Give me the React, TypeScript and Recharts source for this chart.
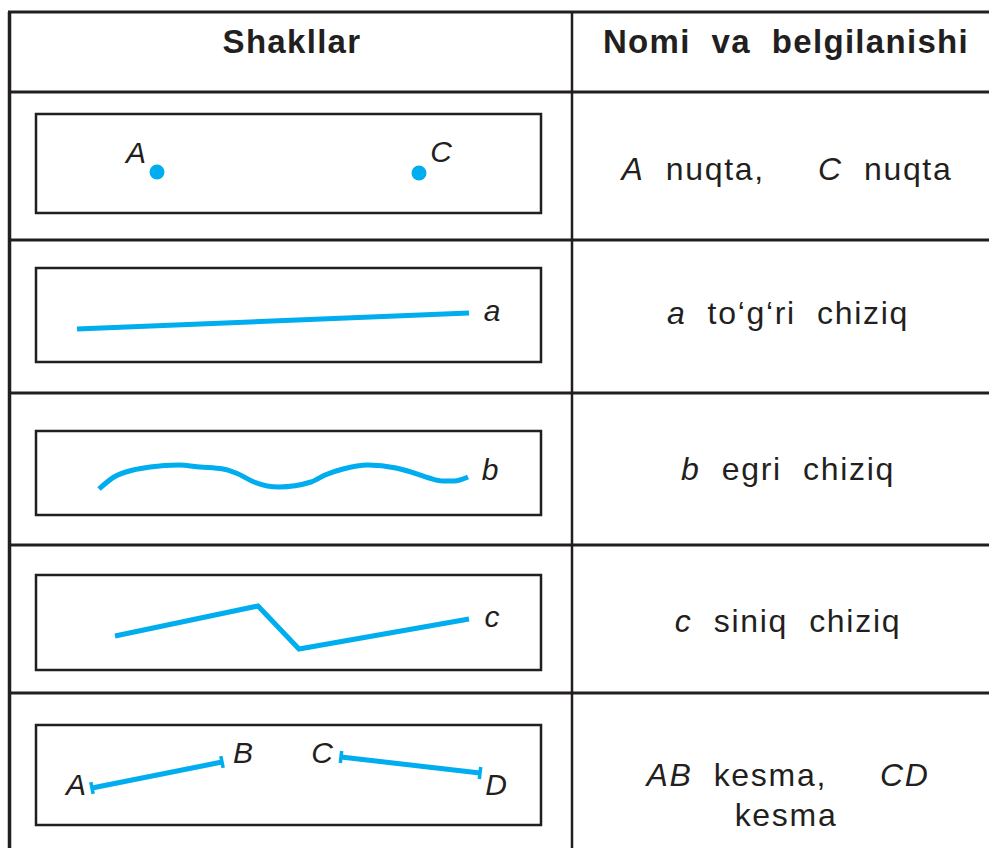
import {
  ComposedChart,
  Line,
  ReferenceArea,
  ReferenceLine,
  Scatter,
  XAxis,
  YAxis,
} from "recharts";

const W = 989;
const H = 848;
const INK = "#231f20";
const BLUE = "#00adee";
const FONT = "'Liberation Sans', Arial, Helvetica, sans-serif";

// table grid (page pixels = data units)
const rowLines = [12, 92, 240, 393, 545, 693];
const colLines = [9.5, 572];
const boxRows = [
  [114, 213],
  [268, 362],
  [431, 515],
  [575, 670],
  [725, 825],
];

const points = [
  { x: 157, y: 172 },
  { x: 419, y: 173 },
];
const straightA = [
  { x: 77, y: 329 },
  { x: 469, y: 313 },
];
const curveB = [
  { x: 99, y: 489 },
  { x: 114, y: 477 },
  { x: 133, y: 470 },
  { x: 150, y: 467 },
  { x: 179, y: 465 },
  { x: 200, y: 467 },
  { x: 223, y: 469 },
  { x: 236, y: 473 },
  { x: 254, y: 482 },
  { x: 279, y: 487 },
  { x: 311, y: 482 },
  { x: 325, y: 475 },
  { x: 343, y: 469 },
  { x: 368, y: 465 },
  { x: 396, y: 468 },
  { x: 414, y: 473 },
  { x: 429, y: 478 },
  { x: 443, y: 481 },
  { x: 454, y: 481 },
  { x: 468, y: 477 },
];
const brokenC = [
  { x: 115, y: 636 },
  { x: 258, y: 606 },
  { x: 299, y: 649 },
  { x: 469, y: 619 },
];
const segAB = [
  { x: 92, y: 788 },
  { x: 222, y: 762 },
];
const segCD = [
  { x: 341, y: 757 },
  { x: 480, y: 773 },
];

const shapeLetters = [
  { x: 136, y: 163, t: "A" },
  { x: 441, y: 162, t: "C" },
  { x: 492, y: 321, t: "a" },
  { x: 490, y: 480, t: "b" },
  { x: 492, y: 627, t: "c" },
  { x: 76, y: 795, t: "A" },
  { x: 243, y: 763, t: "B" },
  { x: 322, y: 763, t: "C" },
  { x: 496, y: 795, t: "D" },
];

type Part = { t: string; i?: boolean };
const headers = [
  { x: 292, y: 53, parts: [{ t: "Shakllar" }] as Part[] },
  { x: 786, y: 53, parts: [{ t: "Nomi  va  belgilanishi" }] as Part[] },
];
const names = [
  { x: 787, y: 180, parts: [{ t: "A", i: true }, { t: "  nuqta,     " }, { t: "C", i: true }, { t: "  nuqta" }] },
  { x: 788, y: 324, parts: [{ t: "a", i: true }, { t: "  to‘g‘ri  chiziq" }] },
  { x: 788, y: 480, parts: [{ t: "b", i: true }, { t: "  egri  chiziq" }] },
  { x: 788, y: 632, parts: [{ t: "c", i: true }, { t: "  siniq  chiziq" }] },
  { x: 788, y: 786, parts: [{ t: "AB", i: true }, { t: "  kesma,     " }, { t: "CD", i: true }] },
  { x: 786, y: 826, parts: [{ t: "kesma" }] },
];

function angleOf(seg: { x: number; y: number }[]) {
  return (Math.atan2(seg[1].y - seg[0].y, seg[1].x - seg[0].x) * 180) / Math.PI;
}

function capDot(angle: number) {
  return (p: any) => (
    <line
      key={`cap-${p.index}`}
      x1={p.cx}
      y1={p.cy - 6}
      x2={p.cx}
      y2={p.cy + 6}
      stroke={BLUE}
      strokeWidth={3.5}
      transform={`rotate(${angle} ${p.cx} ${p.cy})`}
    />
  );
}

function textShape(size: number, bold: boolean, italicAll: boolean, spacing: number) {
  return (p: any) => {
    const d = p.payload;
    const parts: Part[] = d.parts ?? [{ t: d.t, i: italicAll }];
    return (
      <text
        x={p.cx}
        y={p.cy}
        textAnchor="middle"
        fontFamily={FONT}
        fontSize={size}
        fontWeight={bold ? 700 : 400}
        letterSpacing={spacing}
        fill={INK}
        style={{ whiteSpace: "pre" }}
      >
        {parts.map((q, k) => (
          <tspan key={k} fontStyle={q.i ? "italic" : "normal"}>
            {q.t}
          </tspan>
        ))}
      </text>
    );
  };
}

export default function App() {
  return (
    <div style={{ position: "absolute", left: 0, top: 0, background: "#fff" }}>
      <ComposedChart width={W} height={H} margin={{ top: 0, right: 0, bottom: 0, left: 0 }}>
        <XAxis type="number" dataKey="x" domain={[0, W]} hide allowDataOverflow />
        <YAxis type="number" dataKey="y" domain={[0, H]} reversed hide allowDataOverflow />

        {rowLines.map((y) => (
          <ReferenceLine
            key={`h${y}`}
            segment={[{ x: 8, y }, { x: W, y }]}
            stroke={INK}
            strokeWidth={3}
            ifOverflow="visible"
          />
        ))}
        {colLines.map((x) => (
          <ReferenceLine
            key={`v${x}`}
            segment={[{ x, y: 12 }, { x, y: H }]}
            stroke={INK}
            strokeWidth={x < 20 ? 3.5 : 2.5}
            ifOverflow="visible"
          />
        ))}
        {boxRows.map(([y1, y2]) => (
          <ReferenceArea
            key={`b${y1}`}
            x1={36}
            x2={541}
            y1={y1}
            y2={y2}
            fill="none"
            stroke={INK}
            strokeWidth={2.5}
            ifOverflow="visible"
          />
        ))}

        <Line data={straightA} dataKey="y" type="linear" stroke={BLUE} strokeWidth={5} dot={false} isAnimationActive={false} />
        <Line data={curveB} dataKey="y" type="monotone" stroke={BLUE} strokeWidth={5} strokeLinejoin="round" dot={false} isAnimationActive={false} />
        <Line data={brokenC} dataKey="y" type="linear" stroke={BLUE} strokeWidth={5} dot={false} isAnimationActive={false} />
        <Line data={segAB} dataKey="y" type="linear" stroke={BLUE} strokeWidth={5} dot={capDot(angleOf(segAB))} isAnimationActive={false} />
        <Line data={segCD} dataKey="y" type="linear" stroke={BLUE} strokeWidth={5} dot={capDot(angleOf(segCD))} isAnimationActive={false} />

        <Scatter
          data={points}
          isAnimationActive={false}
          shape={(p: any) => <circle cx={p.cx} cy={p.cy} r={7.5} fill={BLUE} />}
        />
        <Scatter data={shapeLetters} isAnimationActive={false} shape={textShape(30, false, true, 0)} />
        <Scatter data={headers} isAnimationActive={false} shape={textShape(33, true, false, 1.3)} />
        <Scatter data={names} isAnimationActive={false} shape={textShape(32, false, false, 1.7)} />
      </ComposedChart>
    </div>
  );
}
